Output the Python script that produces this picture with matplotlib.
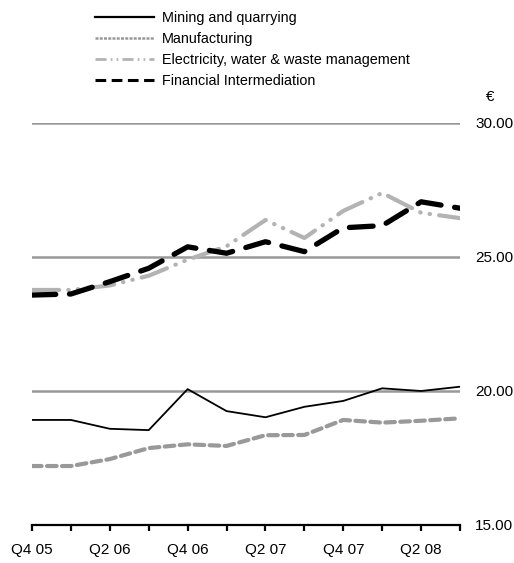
import matplotlib
matplotlib.use('Agg')
import matplotlib.pyplot as plt
from matplotlib.lines import Line2D

plt.rcParams['font.family'] = ['Liberation Sans', 'DejaVu Sans']

# kvartaly Q4 05 .. Q3 08
quarters = ['Q4 05', 'Q1 06', 'Q2 06', 'Q3 06', 'Q4 06', 'Q1 07',
            'Q2 07', 'Q3 07', 'Q4 07', 'Q1 08', 'Q2 08', 'Q3 08']
mining = [18.92, 18.92, 18.59, 18.54, 20.07, 19.25, 19.02, 19.41, 19.63, 20.10, 20.00, 20.16]
manufacturing = [17.20, 17.20, 17.46, 17.87, 18.01, 17.95, 18.35, 18.36, 18.92, 18.82, 18.89, 18.98]
electricity = [23.77, 23.77, 23.94, 24.30, 24.90, 25.40, 26.38, 25.71, 26.72, 27.39, 26.65, 26.45]
financial = [23.58, 23.62, 24.08, 24.58, 25.38, 25.14, 25.57, 25.20, 26.09, 26.17, 27.06, 26.82]
series_names = ['Mining and quarrying', 'Manufacturing',
                'Electricity, water & waste management', 'Financial Intermediation']
yticks = [15, 20, 25, 30]

W, H = 514, 563
fig = plt.figure(figsize=(W / 100, H / 100), dpi=100)
ax = fig.add_axes([32 / W, 1 - 525 / H, (460 - 32) / W, (525 - 123) / H])

x = list(range(len(quarters)))

# mriezka
for v in yticks[1:]:
    ax.axhline(v, color='#999999', lw=1.8, zorder=1)

ax.plot(x, electricity, color='#b3b3b3', lw=3.0, solid_capstyle='round',
        dash_capstyle='round', dashes=(6.5, 2.2, 0.1, 2.2, 0.1, 2.2), zorder=2)
ax.plot(x, manufacturing, color='#999999', lw=3.0, dash_capstyle='round',
        dashes=(2.3, 1.3), zorder=3)
ax.plot(x, mining, color='black', lw=1.3, zorder=4)
ax.plot(x, financial, color='black', lw=3.8, dash_capstyle='round',
        dashes=(4.5, 2.6), zorder=5)

ax.set_xlim(0, 11)
ax.set_ylim(15, 30)
for s in ['top', 'left', 'right']:
    ax.spines[s].set_visible(False)
ax.spines['bottom'].set_linewidth(1.6)
ax.spines['bottom'].set_zorder(6)

ax.set_xticks(x)
ax.set_xticklabels([q if i % 2 == 0 else '' for i, q in enumerate(quarters)], fontsize=11)
ax.tick_params(axis='x', direction='out', length=4, width=1.6, pad=9)

ax.yaxis.tick_right()
ax.set_yticks(yticks)
ax.set_yticklabels(['%.2f' % v for v in yticks], fontsize=11)
ax.tick_params(axis='y', length=0, pad=11)

fig.text(490 / W, 1 - 97 / H, '€', fontsize=11, ha='center', va='center')

handles = [
    Line2D([], [], color='black', lw=1.6),
    Line2D([], [], color='#999999', lw=1.8, dashes=(1.2, 0.5)),
    Line2D([], [], color='#b3b3b3', lw=2.0, dashes=(4, 1.5, 0.6, 1.5, 0.6, 1.5)),
    Line2D([], [], color='black', lw=2.2, dashes=(3.5, 1.8)),
]
fig.legend(handles, series_names, loc='upper left', bbox_to_anchor=(89 / W, 1 - 5 / H),
           frameon=False, fontsize=10.4, handlelength=4.1, handletextpad=0.55,
           labelspacing=0.5, borderaxespad=0)

fig.savefig('out.png', dpi=100)
